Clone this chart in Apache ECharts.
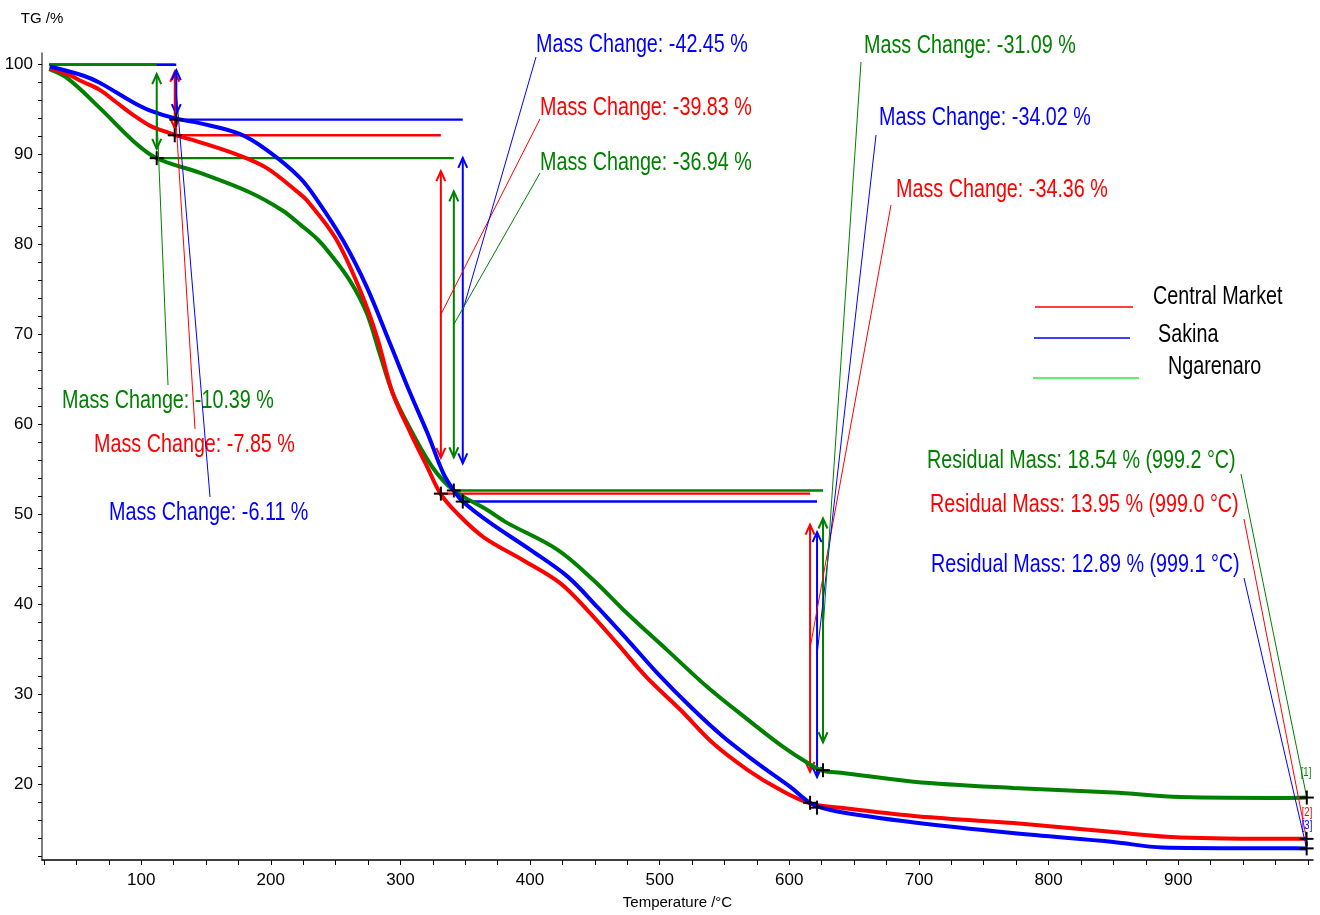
<!DOCTYPE html>
<html>
<head>
<meta charset="utf-8">
<script src="https://cdn.jsdelivr.net/npm/echarts@6/dist/echarts.min.js"></script>
<style>
html,body{margin:0;padding:0;background:#fff;}
#chart{width:1320px;height:915px;}
</style>
</head>
<body>
<div id="chart"></div>
<script>
// ---------------- DATA ----------------
const sampleNames = ['Central Market', 'Sakina', 'Ngarenaro'];

// TG curves: temperature (°C) and mass (%)
const cmTemp = [29.5, 42, 55, 68, 81, 94, 107, 120, 127, 145, 176, 197, 222, 228, 250, 269, 282, 294, 308, 321, 331, 344, 364, 395, 423, 444, 467, 490, 516, 541, 568, 593, 616, 640, 696, 773, 850, 902, 984, 999];
const cmMass = [99.6, 99.0, 98.1, 97.2, 95.8, 94.4, 93.2, 92.5, 92.15, 91.4, 89.9, 88.5, 85.7, 84.9, 80.7, 74.9, 69.7, 63.5, 59.0, 55.2, 52.3, 50.1, 47.5, 44.9, 42.4, 39.4, 35.7, 31.9, 28.3, 24.6, 21.6, 19.4, 17.9, 17.4, 16.5, 15.7, 14.7, 14.1, 13.95, 13.95];

const skTemp = [29.5, 55, 68, 81, 94, 107, 127, 145, 176, 197, 222, 236, 256, 274, 292, 307.5, 321, 333, 341, 348.5, 369, 400, 429, 452, 475, 498, 524, 549, 575, 601, 618, 637, 695, 772, 850, 888, 984, 999];
const skMass = [99.8, 98.8, 98.0, 96.9, 95.8, 94.9, 94.0, 93.5, 92.3, 90.5, 87.5, 84.9, 80.4, 75.3, 69.0, 63.5, 59.0, 54.6, 52.7, 51.4, 49.1, 46.1, 43.1, 39.7, 36.1, 32.4, 28.6, 25.3, 22.4, 19.7, 17.8, 17.0, 15.8, 14.6, 13.6, 13.0, 12.9, 12.89];

const ngTemp = [29, 43, 68, 94, 112, 145, 184, 209, 223, 236, 244, 261, 274, 284, 294, 308, 325, 341, 367, 382, 421, 449, 475, 506, 537, 568, 595, 614, 626, 640, 696, 773, 850, 902, 984, 999.2];
const ngMass = [99.5, 98.5, 95.2, 91.5, 89.6, 88.0, 85.8, 83.8, 82.2, 80.6, 79.3, 76.0, 72.4, 67.9, 63.5, 59.4, 55.2, 52.7, 50.5, 49.1, 46.1, 42.7, 39.0, 34.9, 30.8, 27.2, 24.2, 22.4, 21.5, 21.3, 20.3, 19.6, 19.1, 18.6, 18.5, 18.54];

// Mass-change steps (temperature of evaluation, mass change %)
const startTemp = 29;
const startMass = 100;
const cmStepTemp = [125.9, 331.2, 616.0];
const cmMassChange = [-7.85, -39.83, -34.36];
const skStepTemp = [127.1, 348.1, 621.4];
const skMassChange = [-6.11, -42.45, -34.02];
const ngStepTemp = [112.0, 341.2, 626.0];
const ngMassChange = [-10.39, -36.94, -31.09];

// Residual masses
const residualMass = [13.95, 12.89, 18.54];
const residualTemp = [999.0, 999.1, 999.2];
const residualTag = ['[2]', '[3]', '[1]'];

// Axis ticks / labels
const xLabelValues = [100, 200, 300, 400, 500, 600, 700, 800, 900];
const xTickValues = [25, 50, 75, 100, 125, 150, 175, 200, 225, 250, 275, 300, 325, 350, 375, 400, 425, 450, 475, 500, 525, 550, 575, 600, 625, 650, 675, 700, 725, 750, 775, 800, 825, 850, 875, 900, 925, 950, 975, 1000];
const yLabelValues = [20, 30, 40, 50, 60, 70, 80, 90, 100];
const yTickValues = [12, 14, 16, 18, 20, 22, 24, 26, 28, 30, 32, 34, 36, 38, 40, 42, 44, 46, 48, 50, 52, 54, 56, 58, 60, 62, 64, 66, 68, 70, 72, 74, 76, 78, 80, 82, 84, 86, 88, 90, 92, 94, 96, 98, 100];

// ---------------- STYLE / LAYOUT ----------------
const FONT = '"Liberation Sans",Arial,sans-serif';
const NARROW = 0.79;       // horizontal squeeze to imitate a narrow face
const BIG = '25px ' + FONT;
const colors = ['#ff0000', '#0000ff', '#008000'];
const legendColors = ['#ff0000', '#0000ff', '#66ee66'];

// label placement (pixels): left x, centre y, leader end lx/ly
const stepLabelLayout = [
  [{x: 94, y: 445, lx: 195, ly: 429}, {x: 540, y: 108, lx: 540, ly: 119}, {x: 896, y: 190, lx: 891, ly: 205}],
  [{x: 109, y: 513, lx: 210, ly: 497}, {x: 536, y: 45, lx: 536, ly: 57}, {x: 879, y: 118, lx: 876, ly: 135}],
  [{x: 62, y: 401, lx: 168, ly: 385}, {x: 540, y: 163, lx: 540, ly: 173}, {x: 864, y: 46, lx: 861, ly: 62}]
];
const residualLayout = [
  {x: 930, y: 505, lx: 1244, ly: 519, tx: 1307, ty: 813},
  {x: 931, y: 565, lx: 1244, ly: 578, tx: 1307, ty: 826},
  {x: 927, y: 461, lx: 1241, ly: 474, tx: 1306, ty: 773}
];

const samples = [
  {temp: cmTemp, mass: cmMass, steps: cmStepTemp, changes: cmMassChange},
  {temp: skTemp, mass: skMass, steps: skStepTemp, changes: skMassChange},
  {temp: ngTemp, mass: ngMass, steps: ngStepTemp, changes: ngMassChange}
];

function levelsOf(s) {
  const lv = [startMass];
  s.changes.forEach(c => lv.push(+(lv[lv.length - 1] + c).toFixed(2)));
  return lv;
}

function arrowHead(x, y, dir, color) {
  const L = 10, W = 4.5;
  return {type: 'polyline', shape: {points: [[x - W, y - dir * L], [x, y], [x + W, y - dir * L]]},
    style: {stroke: color, lineWidth: 2, fill: null}};
}

function narrowText(x, y, text, color, font, align) {
  return {type: 'text', x: x, y: y, scaleX: NARROW, scaleY: 1,
    style: {text: text, fill: color, font: font, align: align || 'left', verticalAlign: 'middle'}};
}

function renderLevels(params, api) {
  const ch = [];
  samples.forEach((s, k) => {
    const lv = levelsOf(s);
    const col = colors[k];
    for (let i = 0; i < 3; i++) {
      const a = api.coord([i === 0 ? startTemp : s.steps[i - 1], lv[i]]);
      const b = api.coord([s.steps[i], lv[i]]);
      ch.push({type: 'line', shape: {x1: a[0], y1: a[1], x2: b[0], y2: b[1]}, style: {stroke: col, lineWidth: 2.4}});
    }
    for (let i = 0; i < 3; i++) {
      const d = Math.abs(s.changes[i]) * 0.1;
      const top = api.coord([s.steps[i], lv[i] - d]);
      const bot = api.coord([s.steps[i], lv[i + 1] + d]);
      ch.push({type: 'line', shape: {x1: top[0], y1: top[1], x2: bot[0], y2: bot[1]}, style: {stroke: col, lineWidth: 2}});
      ch.push(arrowHead(top[0], top[1], -1, col));
      ch.push(arrowHead(bot[0], bot[1], 1, col));
    }
  });
  return {type: 'group', children: ch};
}

function cross(p) {
  const a = 7;
  return [
    {type: 'line', shape: {x1: p[0] - a, y1: p[1], x2: p[0] + a, y2: p[1]}, style: {stroke: '#000', lineWidth: 2}},
    {type: 'line', shape: {x1: p[0], y1: p[1] - a, x2: p[0], y2: p[1] + a}, style: {stroke: '#000', lineWidth: 2}}
  ];
}

function renderTop(params, api) {
  const ch = [];
  samples.forEach((s, k) => {
    const lv = levelsOf(s);
    const col = colors[k];
    for (let i = 0; i < 3; i++) {
      const p = api.coord([s.steps[i], lv[i + 1]]);
      ch.push(...cross(p));
      const mid = api.coord([s.steps[i], (lv[i] + lv[i + 1]) / 2]);
      const L = stepLabelLayout[k][i];
      ch.push({type: 'line', shape: {x1: mid[0], y1: mid[1], x2: L.lx, y2: L.ly}, style: {stroke: col, lineWidth: 1}});
      ch.push(narrowText(L.x, L.y, 'Mass Change: ' + s.changes[i].toFixed(2) + ' %', col, BIG));
    }
    const r = api.coord([residualTemp[k], residualMass[k]]);
    const R = residualLayout[k];
    ch.push({type: 'line', shape: {x1: R.lx, y1: R.ly, x2: r[0], y2: r[1]}, style: {stroke: col, lineWidth: 1}});
    ch.push(...cross(r));
    ch.push(narrowText(R.x, R.y, 'Residual Mass: ' + residualMass[k].toFixed(2) + ' % (' + residualTemp[k].toFixed(1) + ' °C)', col, BIG));
    ch.push(narrowText(R.tx, R.ty, residualTag[k], col, '12px ' + FONT, 'center'));
  });
  return {type: 'group', children: ch};
}

const curveSeries = [2, 0, 1].map(k => ({
  name: sampleNames[k],
  type: 'line',
  data: samples[k].temp.map((t, i) => [t, samples[k].mass[i]]),
  showSymbol: false,
  smooth: 0.35,
  lineStyle: {color: colors[k], width: 4},
  itemStyle: {color: colors[k]},
  z: 2,
  silent: true
}));

const legendGraphics = [];
const legendLines = [
  {x1: 1035, x2: 1133, y: 307, w: 1.3},
  {x1: 1034, x2: 1130, y: 338, w: 1.3},
  {x1: 1033, x2: 1139, y: 378, w: 2}
];
const legendTexts = [{x: 1153, y: 297}, {x: 1158, y: 335}, {x: 1168, y: 367}];
sampleNames.forEach((n, k) => {
  const l = legendLines[k], t = legendTexts[k];
  legendGraphics.push({type: 'line', shape: {x1: l.x1, y1: l.y, x2: l.x2, y2: l.y}, style: {stroke: legendColors[k], lineWidth: l.w}});
  legendGraphics.push({type: 'text', x: t.x, y: t.y, scaleX: NARROW, style: {text: n, fill: '#000', font: BIG, align: 'left', verticalAlign: 'middle'}});
});

const chart = echarts.init(document.getElementById('chart'), null, {renderer: 'canvas'});
chart.setOption({
  animation: false,
  backgroundColor: '#fff',
  grid: {left: 42, right: 7, top: 53, bottom: 55, containLabel: false},
  xAxis: {
    type: 'value', min: 23.5, max: 1004,
    name: 'Temperature /°C', nameLocation: 'middle', nameGap: 35,
    nameTextStyle: {fontFamily: FONT, fontSize: 15, color: '#000'},
    axisLine: {show: true, onZero: false, lineStyle: {color: '#000', width: 1.5}},
    axisTick: {show: true, length: 5, customValues: xTickValues, lineStyle: {color: '#000'}},
    axisLabel: {customValues: xLabelValues, fontFamily: FONT, fontSize: 17, color: '#000', margin: 12},
    splitLine: {show: false}
  },
  yAxis: {
    type: 'value', min: 11.6, max: 101.3,
    name: 'TG /%', nameLocation: 'end', nameGap: 27,
    nameTextStyle: {fontFamily: FONT, fontSize: 15, color: '#000'},
    axisLine: {show: true, onZero: false, lineStyle: {color: '#555', width: 1.5}},
    axisTick: {show: true, length: 4, customValues: yTickValues, lineStyle: {color: '#000'}},
    axisLabel: {customValues: yLabelValues, fontFamily: FONT, fontSize: 17, color: '#000', margin: 9},
    splitLine: {show: false}
  },
  series: [
    {type: 'custom', name: 'levels', coordinateSystem: 'cartesian2d', data: [[500, 50]], renderItem: renderLevels, z: 1, silent: true, clip: false},
    ...curveSeries,
    {type: 'custom', name: 'annotations', coordinateSystem: 'cartesian2d', data: [[500, 50]], renderItem: renderTop, z: 3, silent: true, clip: false}
  ],
  graphic: legendGraphics
});
</script>
</body>
</html>
